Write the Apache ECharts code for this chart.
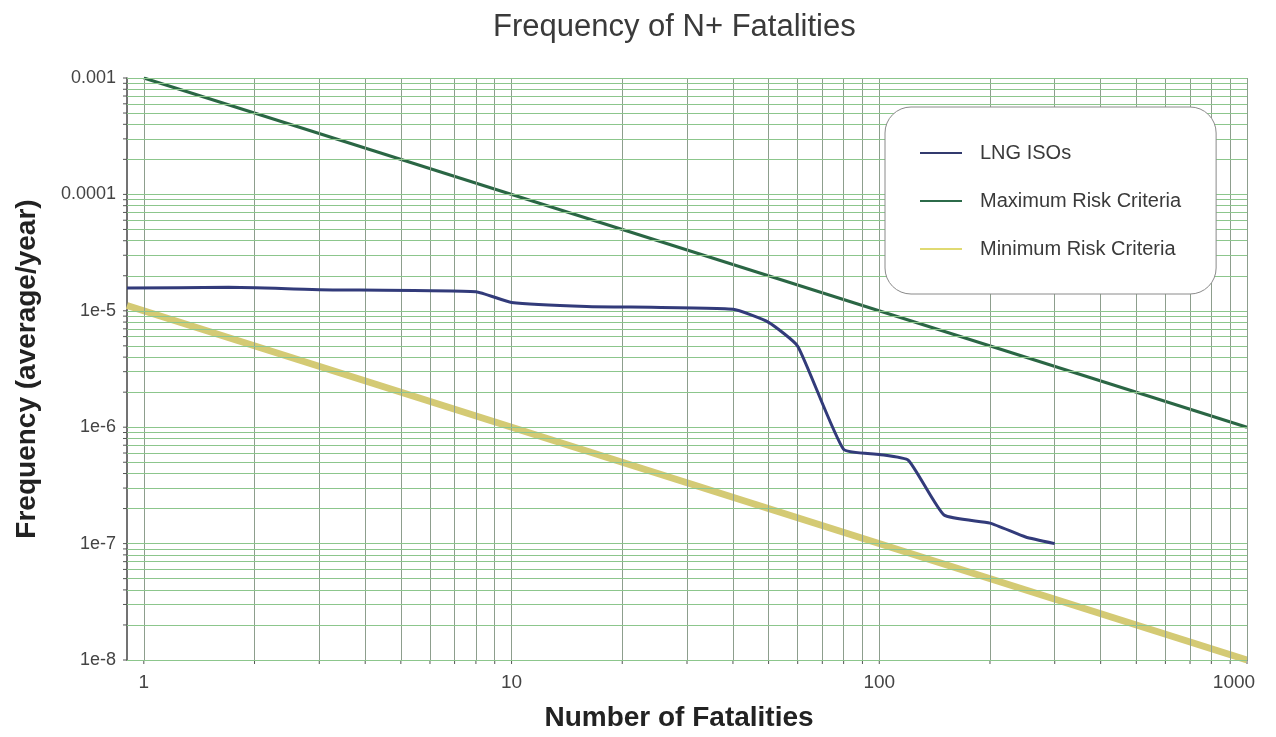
<!DOCTYPE html>
<html>
<head>
<meta charset="utf-8">
<script src="https://cdn.jsdelivr.net/npm/echarts@6/dist/echarts.min.js"></script>
<style>
  html, body { margin: 0; padding: 0; background: #ffffff; }
  #chart { width: 1276px; height: 737px; }
</style>
</head>
<body>
<div id="chart"></div>
<script>
// F-N curve: frequency of N or more fatalities
const lngX = [0.9, 1.7, 3, 8, 10, 16, 40, 50, 60, 80, 100, 120, 150, 200, 250, 300];
const lngY = [1.57e-5, 1.59e-5, 1.52e-5, 1.46e-5, 1.18e-5, 1.09e-5, 1.03e-5, 7.96e-6, 4.97e-6,
              6.44e-7, 5.83e-7, 5.19e-7, 1.76e-7, 1.50e-7, 1.14e-7, 1.0e-7];
const maxRiskX = [1, 1000];
const maxRiskY = [1e-3, 1e-6];
const minRiskX = [0.9, 1000];
const minRiskY = [1.11e-5, 1e-8];

const xTickValues = [1, 10, 100, 1000];
const xTickLabels = ['1', '10', '100', '1000'];
const yTickValues = [1e-3, 1e-4, 1e-5, 1e-6, 1e-7, 1e-8];
const yTickLabels = ['0.001', '0.0001', '1e-5', '1e-6', '1e-7', '1e-8'];

const X_MIN = 0.9, X_MAX = 1000, Y_MIN = 1e-8, Y_MAX = 1e-3;
const FONT = 'Liberation Sans, Arial, Helvetica, sans-serif';

function pairs(xs, ys) { return xs.map((x, i) => [x, ys[i]]); }

function labelIndex(values, v) {
  for (let i = 0; i < values.length; i++) {
    if (Math.abs(Math.log10(v) - Math.log10(values[i])) < 1e-6) return i;
  }
  return -1;
}

// Log-paper grid: a line at every 1..9 multiple of each decade
function decadeLines(lo, hi) {
  const out = [];
  for (let e = lo; e < hi; e++) {
    for (let m = 1; m <= 9; m++) out.push(m * Math.pow(10, e));
  }
  out.push(Math.pow(10, hi));
  return out;
}
const gridX = decadeLines(0, 3).filter(v => v >= X_MIN);
const gridY = decadeLines(-8, -3);

function gridSeries(name, lines, style) {
  return {
    name: name,
    type: 'line',
    data: [],
    z: 1,
    silent: true,
    markLine: {
      silent: true,
      symbol: ['none', 'none'],
      label: { show: false },
      emphasis: { disabled: true },
      lineStyle: style,
      data: lines
    }
  };
}

// Small outward ticks at every grid line, placed through the axis scales
function tickSeries(name, points, dx, dy) {
  return {
    name: name,
    type: 'custom',
    silent: true,
    clip: false,
    z: 2,
    data: points,
    encode: { x: 0, y: 1 },
    renderItem: (params, api) => {
      const p = api.coord([api.value(0), api.value(1)]);
      return {
        type: 'line',
        shape: { x1: p[0], y1: p[1], x2: p[0] + dx, y2: p[1] + dy },
        style: { stroke: '#555', lineWidth: 1 }
      };
    }
  };
}

const chart = echarts.init(document.getElementById('chart'));
chart.setOption({
  backgroundColor: '#ffffff',
  animation: false,
  title: {
    text: 'Frequency of N+ Fatalities',
    left: 488,
    top: 7,
    textStyle: { fontFamily: FONT, fontSize: 31, fontWeight: 'normal', color: '#3a3a3a' }
  },
  grid: { left: 127, right: 29, top: 78, bottom: 73 },
  legend: {
    data: ['LNG ISOs', 'Maximum Risk Criteria', 'Minimum Risk Criteria'],
    orient: 'vertical',
    left: 885,
    top: 107,
    z: 10,
    icon: 'rect',
    padding: [36, 35, 35, 35],
    itemWidth: 42,
    itemHeight: 2,
    itemGap: 28,
    backgroundColor: '#ffffff',
    borderColor: '#8a8a8a',
    borderWidth: 1,
    borderRadius: 26,
    textStyle: { fontFamily: FONT, fontSize: 20, color: '#3a3a3a', padding: [0, 0, 0, 13] }
  },
  xAxis: {
    type: 'log',
    logBase: 10,
    min: X_MIN,
    max: X_MAX,
    name: 'Number of Fatalities',
    nameLocation: 'middle',
    nameGap: 44,
    nameTextStyle: { fontFamily: FONT, fontSize: 28, fontWeight: 'bold', color: '#222', padding: [0, 16, 0, 0] },
    axisLine: { show: true, lineStyle: { color: '#666', width: 1 } },
    axisTick: { show: false },
    splitLine: { show: false },
    axisLabel: {
      fontFamily: FONT, fontSize: 19, color: '#444', margin: 13,
      showMinLabel: true, showMaxLabel: true,
      formatter: v => {
        const i = labelIndex(xTickValues, v);
        if (i < 0) return '';
        return i === xTickValues.length - 1 ? '{last|' + xTickLabels[i] + '}' : xTickLabels[i];
      },
      rich: {
        last: { fontFamily: FONT, fontSize: 19, color: '#444', padding: [0, 26, 0, 0] }
      }
    }
  },
  yAxis: {
    type: 'log',
    logBase: 10,
    min: Y_MIN,
    max: Y_MAX,
    name: 'Frequency (average/year)',
    nameLocation: 'middle',
    nameGap: 86,
    nameTextStyle: { fontFamily: FONT, fontSize: 28, fontWeight: 'bold', color: '#222' },
    axisLine: { show: true, lineStyle: { color: '#444', width: 1.5 } },
    axisTick: { show: false },
    splitLine: { show: false },
    axisLabel: {
      fontFamily: FONT, fontSize: 18, color: '#444', margin: 11,
      padding: [0, 0, 10, 0],
      formatter: v => {
        const i = labelIndex(yTickValues, v);
        return i < 0 ? '' : yTickLabels[i];
      }
    }
  },
  series: [
    gridSeries('gridV', gridX.map(v => [{ coord: [v, Y_MIN] }, { coord: [v, Y_MAX] }]),
      { color: '#8d9e8d', width: 1, type: 'solid' }),
    gridSeries('gridH', gridY.map(v => [{ coord: [X_MIN, v] }, { coord: [X_MAX, v] }]),
      { color: '#8cc68c', width: 1, type: 'solid' }),
    tickSeries('ticksX', gridX.map(v => [v, Y_MIN]), 0, 4),
    tickSeries('ticksY', gridY.map(v => [X_MIN, v]), -4, 0),
    {
      name: 'Minimum Risk Criteria',
      type: 'line',
      data: pairs(minRiskX, minRiskY),
      showSymbol: false,
      symbol: 'none',
      z: 3,
      color: '#e0da72',
      lineStyle: { color: '#d4ca74', width: 7 }
    },
    {
      name: 'Maximum Risk Criteria',
      type: 'line',
      data: pairs(maxRiskX, maxRiskY),
      showSymbol: false,
      symbol: 'none',
      z: 4,
      color: '#2c6b4a',
      lineStyle: { color: '#2a6644', width: 3 }
    },
    {
      name: 'LNG ISOs',
      type: 'line',
      data: pairs(lngX, lngY),
      showSymbol: false,
      symbol: 'none',
      smooth: 0.15,
      z: 5,
      color: '#323a6e',
      lineStyle: { color: '#323b7a', width: 3 }
    }
  ]
});
</script>
</body>
</html>
